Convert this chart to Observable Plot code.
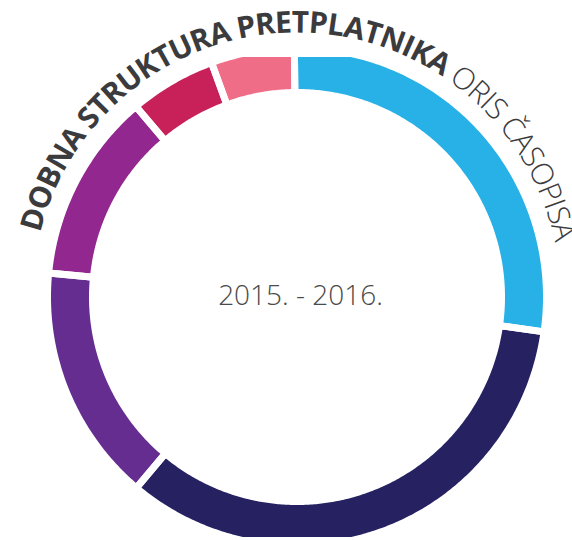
<!DOCTYPE html>
<html>
<head>
<meta charset="utf-8">
<script src="https://cdn.jsdelivr.net/npm/d3@7"></script>
<script src="https://cdn.jsdelivr.net/npm/@observablehq/plot@0.6"></script>
<style>
  html, body { margin: 0; padding: 0; background: #fff; }
  #chart { width: 572px; height: 540px; overflow: hidden; }
</style>
</head>
<body>
<div id="chart"></div>
<script>
// ---- data ----
const groups = ["Skupina 1", "Skupina 2", "Skupina 3", "Skupina 4", "Skupina 5", "Skupina 6"];
const shares = [27.4, 33.9, 15.4, 12.3, 5.6, 5.4];
const colors = ["#27b1e6", "#262262", "#652d90", "#92278f", "#c8215a", "#f06d88"];
const titleBold = "DOBNA STRUKTURA PRETPLATNIKA";
const titleLight = "ORIS ČASOPISA";
const period = "2015. - 2016.";

// ---- layout ----
const W = 572, H = 540;
const mL = 21, mR = 0, mT = 53, mB = 0;
const CX = mL + (W - mL - mR) / 2, CY = mT + (H - mT - mB) / 2;
const FIT = Math.min(W - mL - mR, H - mT - mB) / 2;
const DEG = 0.1;               // degrees of colatitude per pixel
const R_OUT = 246, R_IN = 208, GAP = 7;
const START = -0.6;            // start angle, clockwise from top
const R_TEXT = 264;

const total = d3.sum(shares);
let acc = 0;
const features = groups.map((g, i) => {
  const a0 = START + 360 * acc / total;
  acc += shares[i];
  const a1 = START + 360 * acc / total;
  const rO = R_OUT + GAP / 2, rI = R_IN - GAP / 2;
  const n = Math.max(2, Math.ceil((a1 - a0) / 0.5));
  const pts = [];
  for (let k = 0; k <= n; k++) { const t = a0 + (a1 - a0) * k / n; pts.push([180 - t, 90 - rO * DEG]); }
  for (let k = n; k >= 0; k--) { const t = a0 + (a1 - a0) * k / n; pts.push([180 - t, 90 - rI * DEG]); }
  pts.push(pts[0].slice());
  const f = {type: "Feature", properties: {group: g}, geometry: {type: "Polygon", coordinates: [pts]}};
  if (d3.geoArea(f) > 2 * Math.PI) pts.reverse();
  return f;
});

const plot = Plot.plot({
  width: W, height: H,
  marginLeft: mL, marginRight: mR, marginTop: mT, marginBottom: mB,
  projection: {
    type: "azimuthal-equidistant",
    rotate: [0, -90],
    domain: d3.geoCircle().center([0, 90]).radius(FIT * DEG).precision(0.5)()
  },
  color: {domain: groups, range: colors},
  marks: [
    Plot.geo(features, {fill: d => d.properties.group}),
    Plot.geo(features, {fill: "none", stroke: "white", strokeWidth: GAP}),
    Plot.text([period], {
      frameAnchor: "middle", text: d => d, fontSize: 28, fontWeight: 300,
      fontFamily: "Open Sans", fill: "#4a4a4a", dx: 3.5, dy: -1
    })
  ]
});

// curved title along a circle around the ring
const svg = d3.select(plot);
const rad = a => a * Math.PI / 180;
const p = a => [CX + R_TEXT * Math.sin(rad(a)), CY - R_TEXT * Math.cos(rad(a))];
const [sx, sy] = p(-76), [ex, ey] = p(100);
svg.append("defs").append("path")
  .attr("id", "titlePath")
  .attr("d", `M${sx},${sy} A${R_TEXT},${R_TEXT} 0 0 1 ${ex},${ey}`);
const t = svg.append("text")
  .attr("font-family", "Open Sans")
  .attr("font-size", 30)
  .attr("letter-spacing", -0.75)
  .attr("text-anchor", "start")
  .attr("fill", "#3b3b3d");
const tp = t.append("textPath").attr("href", "#titlePath").attr("startOffset", 0);
tp.append("tspan").attr("font-weight", 700).text(titleBold);
tp.append("tspan").attr("font-weight", 300).text(" " + titleLight);

document.getElementById("chart").appendChild(plot);
</script>
</body>
</html>
